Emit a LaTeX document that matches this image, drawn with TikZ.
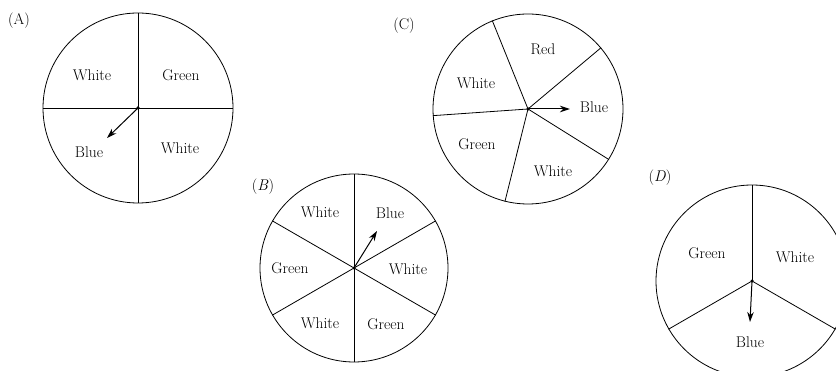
\documentclass[tikz,border=0pt]{standalone}
\usetikzlibrary{arrows.meta}
\begin{document}
\begin{tikzpicture}[x=1pt,y=1pt,
  wheel/.style={circle,draw,line width=0.8pt,inner sep=0pt,minimum size=#1},
  spoke/.style={line width=0.8pt},
  pointer/.style={line width=1pt,-{Stealth[length=10pt,width=6.5pt]}},
  lbl/.style={font=\fontsize{15.5}{18}\selectfont,inner sep=0pt},
  hub/.style={circle,fill,inner sep=0pt,minimum size=3.5pt}]
\useasboundingbox (0,0) rectangle (836,370);
\clip (0,0) rectangle (836,370);
% (A)
\node[lbl] (tA) at (19,349) {(A)};
\node[wheel=190pt] (cA) at (138,262) {};
\node[hub] (hA) at (cA.center) {};
\draw[spoke] (cA.90) -- (cA.270);
\draw[spoke] (cA.180) -- (cA.0);
\node[lbl] (a1) at (92,295) {White};
\node[lbl] (a2) at (181,295) {Green};
\node[lbl] (a3) at (89,218) {Blue};
\node[lbl] (a4) at (180,222) {White};
\coordinate (pA) at (107,232);
\draw[pointer] (cA.center) -- (pA);
% (B)
\node[lbl] (tB) at (263,183) {(\textit{B})};
\node[wheel=188pt] (cB) at (354,102) {};
\node[hub] (hB) at (cB.center) {};
\foreach \a in {30,90,150,210,270,330} \draw[spoke] (cB.center) -- (cB.\a);
\node[lbl] (b1) at (320,158) {White};
\node[lbl] (b2) at (390,157) {Blue};
\node[lbl] (b3) at (290,102) {Green};
\node[lbl] (b4) at (408,101) {White};
\node[lbl] (b5) at (320,47) {White};
\node[lbl] (b6) at (386,46) {Green};
\coordinate (pB) at (377,139);
\draw[pointer] (cB.center) -- (pB);
% (C)
\node[lbl] (tC) at (404,344) {(C)};
\node[wheel=190pt] (cC) at (528,261) {};
\node[hub] (hC) at (cC.center) {};
\foreach \a in {40,112,184,256,328} \draw[spoke] (cC.center) -- (cC.\a);
\node[lbl] (c1) at (543,321) {Red};
\node[lbl] (c2) at (476,287) {White};
\node[lbl] (c3) at (594,263) {Blue};
\node[lbl] (c4) at (477,226) {Green};
\node[lbl] (c5) at (553,199) {White};
\coordinate (pC) at (570,261);
\draw[pointer] (cC.center) -- (pC);
% (D)
\node[lbl] (tD) at (660,192) {(\textit{D})};
\node[wheel=192pt] (cD) at (752,89) {};
\node[hub] (hD) at (cD.center) {};
\foreach \a in {90,210,330} \draw[spoke] (cD.center) -- (cD.\a);
\node[lbl] (d1) at (707,117) {Green};
\node[lbl] (d2) at (795,113) {White};
\node[lbl] (d3) at (750,28) {Blue};
\coordinate (pD) at (750,48);
\draw[pointer] (cD.center) -- (pD);
\end{tikzpicture}
\end{document}
